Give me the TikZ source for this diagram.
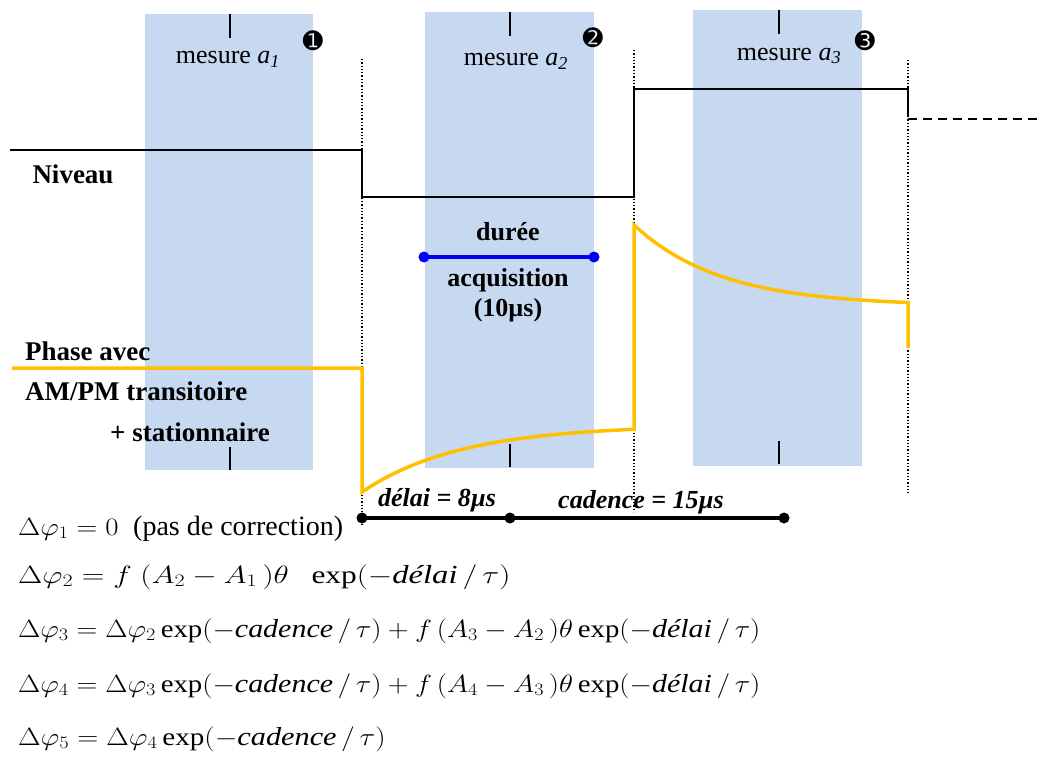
\RequirePackage{fix-cm}
\documentclass[tikz,border=0pt]{standalone}
\usepackage{fontspec}
\setmainfont{Liberation Serif}
\newfontfamily\dvfont{DejaVu Sans}
\newcommand{\itw}[1]{\mbox{\fontsize{26}{30}\selectfont\itshape #1}}
\newcommand{\ovr}{\,\big/\,}
\begin{document}
\begin{tikzpicture}[x=1pt,y=-1pt,
  meas/.style={fill=blueband,draw=none},
  tickline/.style={line width=2pt},
  level/.style={line width=2pt,line join=miter},
  phase/.style={line width=3.5pt,color=orangeph,line join=miter},
  sep/.style={dotted,line width=1.3pt},
  lbl/.style={font=\fontsize{26}{30}\selectfont,inner sep=0pt},
  blbl/.style={font=\fontsize{27}{32}\selectfont\bfseries,inner sep=0pt},
  num/.style={font=\fontsize{24}{28}\selectfont\dvfont,inner sep=0pt},
  eqn/.style={font=\fontsize{25}{30}\selectfont,inner sep=0pt,anchor=base west}
]
\definecolor{blueband}{RGB}{198,217,240}
\definecolor{orangeph}{RGB}{255,192,0}
\definecolor{durblue}{RGB}{0,0,245}
\useasboundingbox (0,0) rectangle (1043,765);

% measurement bands
\fill[meas] (145,14) rectangle (313,470);
\fill[meas] (425,12) rectangle (594,468);
\fill[meas] (693,10) rectangle (862,466);

% ticks
\draw[tickline] (230,14) -- (230,38);
\draw[tickline] (510,12) -- (510,36);
\draw[tickline] (779,10) -- (779,34);
\draw[tickline] (230,447) -- (230,470);
\draw[tickline] (510,444) -- (510,467);
\draw[tickline] (779,441) -- (779,464);

% labels for measures
\node[lbl] (m1) at (228,59) {mesure \textit{a\textsubscript{1}}};
\node[lbl] (m2) at (516,61) {mesure \textit{a\textsubscript{2}}};
\node[lbl] (m3) at (789,56) {mesure \textit{a\textsubscript{3}}};
\node[num] (n1) at (313,41) {➊};
\node[num] (n2) at (593,38) {➋};
\node[num] (n3) at (865,41) {➌};

% dotted separators
\coordinate (s1t) at (362,59);  \coordinate (s1b) at (362,525);
\coordinate (s2t) at (634,50);  \coordinate (s2b) at (634,512);
\coordinate (s3t) at (908,60);  \coordinate (s3b) at (908,493);
\draw[sep] (s1t) -- (s1b);
\draw[sep] (s2t) -- (s2b);
\draw[sep] (s3t) -- (s3b);

% level curve
\coordinate (L0) at (10,150);
\coordinate (L1) at (362,150);
\coordinate (L2) at (362,197);
\coordinate (L3) at (634,197);
\coordinate (L4) at (634,89);
\coordinate (L5) at (908,89);
\coordinate (L6) at (908,116);
\coordinate (L7) at (908,119);
\coordinate (L8) at (1043,119);
\draw[level] (L0) -- (L1) -- (L2) -- (L3) -- (L4) -- (L5) -- (L6);
\draw[line width=2pt,dash pattern=on 9pt off 6pt] (L7) -- (L8);
\node[blbl] (niv) at (73,174) {Niveau};

% phase curve
\coordinate (P0) at (12,368);
\coordinate (P1) at (362,368);
\draw[phase] (P0) -- (P1) -- (362,492)
  -- plot[domain=362:634,samples=80] (\x,{425+67*exp(-(\x-362)/99)})
  -- (634,225)
  -- plot[domain=634:908,samples=80] (\x,{306-81*exp(-(\x-634)/87)})
  -- (908,348);

\node[blbl,anchor=west] (ph1) at (25,351) {Phase avec};
\node[blbl,anchor=west] (ph2) at (25,391) {AM/PM transitoire};
\node[blbl,anchor=west] (ph3) at (110,432) {+ stationnaire};

% acquisition duration
\coordinate (d1) at (424,257);
\coordinate (d2) at (594,257);
\draw[durblue,line width=3.5pt] (d1) -- (d2);
\fill[durblue] (d1) circle[radius=5.5pt] (d2) circle[radius=5.5pt];
\node[blbl,font=\fontsize{26}{30}\selectfont\bfseries] (dur) at (508,232) {durée};
\node[blbl,font=\fontsize{26}{30}\selectfont\bfseries] (acq) at (508,280) {acquisition};
\node[blbl,font=\fontsize{26}{30}\selectfont\bfseries] (tdix) at (508,310) {(10µs)};

% timing bar
\coordinate (b1) at (362,518);
\coordinate (b2) at (510,518);
\coordinate (b3) at (784,518);
\draw[line width=3.5pt] (b1) -- (b2) -- (b3);
\fill (b1) circle[radius=5.5pt] (b2) circle[radius=5.5pt] (b3) circle[radius=5.5pt];
\node[blbl,font=\fontsize{26}{30}\selectfont\bfseries\itshape] (del) at (437,500) {délai = 8µs};
\node[blbl,font=\fontsize{26}{30}\selectfont\bfseries\itshape] (cad) at (641,502) {cadence = 15µs};

% formulas
\node[eqn] (e1) at (18,535) {\scalebox{1.15}[1]{$\Delta\varphi_1 = 0$}};
\node[eqn,font=\fontsize{28}{32}\selectfont] (e1b) at (133,535) {(pas de correction)};
\node[eqn] (e2) at (18,583) {\scalebox{1.255}[1]{$\Delta\varphi_2 = f\;(A_2 - A_1\,)\theta\;\; \exp(-\itw{délai}\ovr\tau)$}};
\node[eqn] (e3) at (18,637) {\scalebox{1.152}[1]{$\Delta\varphi_3 = \Delta\varphi_2\exp(-\itw{cadence}\ovr\tau) + f\,(A_3 - A_2\,)\theta\exp(-\itw{délai}\ovr\tau)$}};
\node[eqn] (e4) at (18,692) {\scalebox{1.152}[1]{$\Delta\varphi_4 = \Delta\varphi_3\exp(-\itw{cadence}\ovr\tau) + f\,(A_4 - A_3\,)\theta\exp(-\itw{délai}\ovr\tau)$}};
\node[eqn] (e5) at (18,745) {\scalebox{1.165}[1]{$\Delta\varphi_5 = \Delta\varphi_4\exp(-\itw{cadence}\ovr\tau)$}};
\end{tikzpicture}
\end{document}
